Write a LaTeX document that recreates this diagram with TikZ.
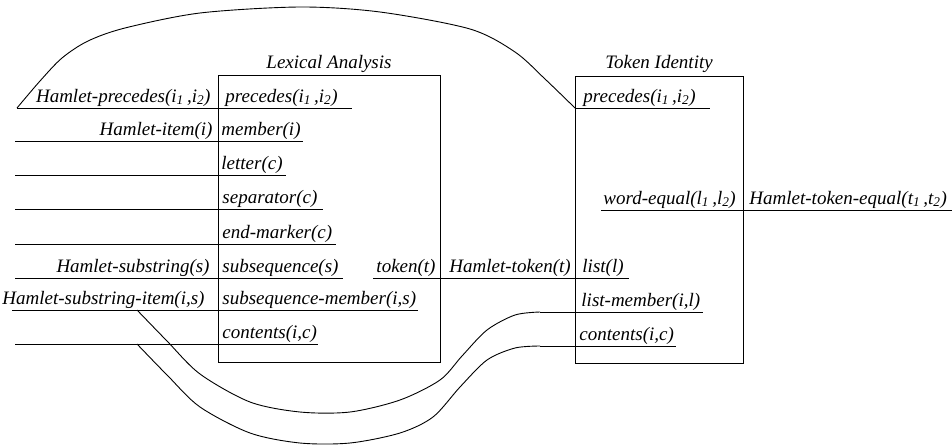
\documentclass[tikz,border=0pt]{standalone}
\usepackage{fontspec}
\setmainfont{Liberation Serif}
\begin{document}
\begin{tikzpicture}[x=1pt,y=-1pt, line width=0.9pt,
  lbl/.style={font=\fontsize{19}{22}\selectfont\itshape, inner sep=0pt},
  lft/.style={lbl, anchor=base east},
  rgt/.style={lbl, anchor=base west},
  ttl/.style={lbl, anchor=base},
  box/.style={draw, line width=0.8pt, inner sep=0pt, anchor=north west},
  wire/.style={line width=0.9pt}]
\useasboundingbox (0,0) rectangle (952,447);
% boxes
\node[box, minimum width=222pt, minimum height=287pt] (lex) at (218,75) {};
\node[box, minimum width=168pt, minimum height=287pt] (tok) at (575,76) {};
\node[ttl] (lexT) at (329,68) {Lexical Analysis};
\node[ttl] (tokT) at (659,68) {Token Identity};
% labels, Lexical Analysis
\node[lft] (L1) at (211,102) {Hamlet-precedes(i\textsubscript{1}\,,i\textsubscript{2})};
\node[rgt] (I1) at (225,102) {precedes(i\textsubscript{1}\,,i\textsubscript{2})};
\node[lft] (L2) at (213,135) {Hamlet-item(i)};
\node[rgt] (I2) at (221,135) {member(i)};
\node[rgt] (I3) at (221,169) {letter(c)};
\node[rgt] (I4) at (222,203) {separator(c)};
\node[rgt] (I5) at (222,238) {end-marker(c)};
\node[lft] (L6) at (210,272) {Hamlet-substring(s)};
\node[rgt] (I6) at (222,272) {subsequence(s)};
\node[lft] (tk) at (436,272) {token(t)};
\node[rgt] (htk) at (449,272) {Hamlet-token(t)};
\node[rgt] (ls) at (582,272) {list(l)};
\node[lft] (L7) at (205,304) {Hamlet-substring-item(i,s)};
\node[rgt] (I7) at (222,304) {subsequence-member(i,s)};
\node[rgt] (I8) at (222,338) {contents(i,c)};
% labels, Token Identity
\node[rgt] (T1) at (583,102) {precedes(i\textsubscript{1}\,,i\textsubscript{2})};
\node[rgt] (T2) at (603,204) {word-equal(l\textsubscript{1}\,,l\textsubscript{2})};
\node[rgt] (T3) at (749,204) {Hamlet-token-equal(t\textsubscript{1}\,,t\textsubscript{2})};
\node[rgt] (T4) at (581,306) {list-member(i,l)};
\node[rgt] (T5) at (579,340) {contents(i,c)};
% line end points
\coordinate (r1a) at (17,108);  \coordinate (r1b) at (352,108);
\coordinate (r2a) at (15,141);  \coordinate (r2b) at (303,141);
\coordinate (r3a) at (15,175);  \coordinate (r3b) at (286,175);
\coordinate (r4a) at (15,209);  \coordinate (r4b) at (323,209);
\coordinate (r5a) at (15,244);  \coordinate (r5b) at (336,244);
\coordinate (r6a) at (15,278);  \coordinate (r6b) at (343,278);
\coordinate (r6c) at (373,278); \coordinate (r6d) at (629,278);
\coordinate (r7a) at (12,310);  \coordinate (r7b) at (418,310);
\coordinate (r8a) at (15,344);  \coordinate (r8b) at (318,344);
\coordinate (t1a) at (575,108); \coordinate (t1b) at (710,108);
\coordinate (t2a) at (601,210); \coordinate (t2b) at (952,210);
\coordinate (t4a) at (540,312); \coordinate (t4b) at (703,312);
\coordinate (t5a) at (540,346); \coordinate (t5b) at (676,346);
\coordinate (cA) at (137,310);
\coordinate (cB) at (137,344);
% underlines
\foreach \p in {r1,r2,r3,r4,r5,r6,r7,r8,t1,t2,t4,t5}{\draw[wire] (\p a) -- (\p b);}
\draw[wire] (r6c) -- (r6d);
% top curve
\draw[wire] plot[smooth, tension=0.5] coordinates {(r1a) (40,81) (62,58) (88,41) (125,28) (200,13) (300,7) (380,12) (470,29) (515,52) (545,79) (t1a)};
% bottom curves
\draw[wire] plot[smooth, tension=0.5] coordinates {(cA) (167,341) (200,374) (250,402) (300,412) (350,412) (400,400) (440,380) (462,356) (487,330) (515,315) (t4a)};
\draw[wire] plot[smooth, tension=0.5] coordinates {(cB) (168,376) (200,407) (250,433) (300,443) (350,443) (400,433) (433,417) (460,387) (487,360) (515,348) (t5a)};
\end{tikzpicture}
\end{document}
